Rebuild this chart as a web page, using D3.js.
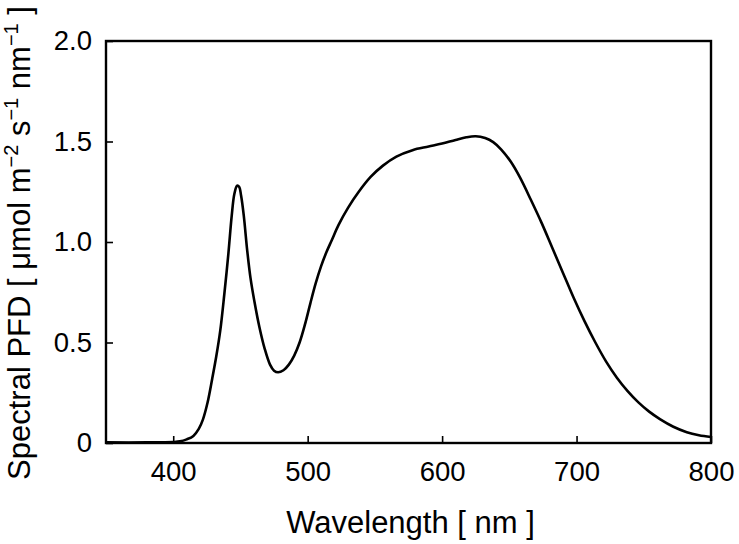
<!DOCTYPE html>
<html>
<head>
<meta charset="utf-8">
<script src="https://cdn.jsdelivr.net/npm/d3@7"></script>
<style>
  body { margin: 0; background: #fff; }
  svg text { font-family: "Liberation Sans", Arial, sans-serif; fill: #000; }
</style>
</head>
<body>
<svg id="chart"></svg>
<script>
// spectrum
const wavelengths = [350, 380, 400, 405, 410, 415, 419, 422, 425.5, 429, 432, 435, 438, 441, 443.5, 445.5, 447.5, 449, 450.5, 452.5, 455, 457.5, 460.5, 464, 468, 472, 475, 478, 482, 486, 490, 494, 498, 502, 506, 510, 514, 518, 523, 530, 538, 547, 556, 566, 578, 590, 600, 610, 618, 625, 632, 638, 644, 651, 658, 666, 674, 682, 690, 698, 706, 714, 722, 730, 738, 746, 754, 762, 772, 782, 791, 800];
const pfd = [0.003, 0.003, 0.005, 0.008, 0.018, 0.035, 0.07, 0.115, 0.2, 0.32, 0.43, 0.56, 0.74, 0.94, 1.13, 1.24, 1.28, 1.275, 1.23, 1.13, 0.96, 0.82, 0.7, 0.58, 0.47, 0.39, 0.36, 0.352, 0.362, 0.39, 0.435, 0.5, 0.59, 0.695, 0.795, 0.88, 0.95, 1.01, 1.085, 1.17, 1.25, 1.325, 1.38, 1.425, 1.457, 1.475, 1.49, 1.508, 1.521, 1.526, 1.517, 1.497, 1.46, 1.4, 1.32, 1.21, 1.095, 0.97, 0.845, 0.72, 0.605, 0.5, 0.405, 0.325, 0.258, 0.202, 0.156, 0.119, 0.081, 0.054, 0.039, 0.03];
const xTicks = [400, 500, 600, 700, 800];
const yTicks = [0, 0.5, 1.0, 1.5, 2.0];

const width = 739, height = 544;
const margin = { top: 41, right: 28, bottom: 101, left: 106 };
const w = width - margin.left - margin.right;
const h = height - margin.top - margin.bottom;

const svg = d3.select('#chart').attr('width', width).attr('height', height);
const g = svg.append('g').attr('transform', `translate(${margin.left},${margin.top})`);

const x = d3.scaleLinear().domain([350, 800]).range([0, w]);
const y = d3.scaleLinear().domain([0, 2]).range([h, 0]);

// inward ticks on bottom and left
const xAxis = g.append('g')
    .attr('transform', `translate(0,${h})`)
    .call(d3.axisBottom(x).tickValues(xTicks).tickSize(-7).tickPadding(18).tickFormat(d3.format('d')));
const yAxis = g.append('g')
    .call(d3.axisLeft(y).tickValues(yTicks).tickSize(-7).tickPadding(14)
        .tickFormat(d => d === 0 ? '0' : d3.format('.1f')(d)));

[xAxis, yAxis].forEach(a => {
    a.select('.domain').remove();
    a.selectAll('line').attr('stroke', '#000').attr('stroke-width', 1.6);
    a.selectAll('text').style('font-size', '27.5px');
});

// frame
g.append('rect')
    .attr('width', w).attr('height', h)
    .attr('fill', 'none').attr('stroke', '#000').attr('stroke-width', 2.4);

const line = d3.line()
    .x((d, i) => x(wavelengths[i]))
    .y(d => y(d))
    .curve(d3.curveCatmullRom.alpha(0.5));

g.append('path')
    .datum(pfd)
    .attr('d', line)
    .attr('fill', 'none')
    .attr('stroke', '#000')
    .attr('stroke-width', 2.6)
    .attr('stroke-linejoin', 'round');

// axis titles
svg.append('text')
    .attr('x', margin.left + w / 2 + 2)
    .attr('y', 533)
    .attr('text-anchor', 'middle')
    .style('font-size', '31px')
    .text('Wavelength [ nm ]');

const yt = svg.append('text')
    .attr('transform', `translate(30,243) rotate(-90)`)
    .attr('text-anchor', 'middle')
    .style('font-size', '31px');
yt.append('tspan').text('Spectral PFD [ μmol m');
yt.append('tspan').attr('dy', -12).style('font-size', '20px').text('−2');
yt.append('tspan').attr('dy', 12).text(' s');
yt.append('tspan').attr('dy', -12).style('font-size', '20px').text('−1');
yt.append('tspan').attr('dy', 12).text(' nm');
yt.append('tspan').attr('dy', -12).style('font-size', '20px').text('−1');
yt.append('tspan').attr('dy', 12).text(' ]');
</script>
</body>
</html>
